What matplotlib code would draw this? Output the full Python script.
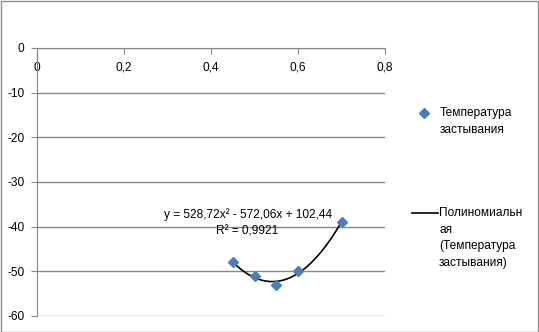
import matplotlib
matplotlib.use("Agg")
import matplotlib.pyplot as plt
from matplotlib.patches import Rectangle
import numpy as np

plt.rcParams['font.family'] = ['Liberation Sans', 'DejaVu Sans']

x_vals = [0.45, 0.50, 0.55, 0.60, 0.70]
y_vals = [-48, -51, -53, -50, -39]
coef = [528.72, -572.06, 102.44]
x_ticks = [0, 0.2, 0.4, 0.6, 0.8]
x_tick_labels = ["0", "0,2", "0,4", "0,6", "0,8"]
y_ticks = [0, -10, -20, -30, -40, -50, -60]
y_tick_labels = ["0", "-10", "-20", "-30", "-40", "-50", "-60"]
series_lines = ["Температура", "застывания"]
trend_lines = ["Полиномиальн", "ая", "(Температура", "застывания)"]
eq_text = "y = 528,72x² - 572,06x + 102,44"
r2_text = "R² = 0,9921"

W, H = 539, 332
FS = 8.6
fig = plt.figure(figsize=(W/100, H/100), dpi=100)
fig.patches.append(Rectangle((0.5/W, 0.5/H), (W-1.5)/W, (H-1.5)/H, transform=fig.transFigure,
                             fill=False, edgecolor='#8c8c8c', lw=1))

ax = fig.add_axes([37/W, (H-316)/H, (385-37)/W, (316-48)/H])
ax.set_xlim(0, 0.8)
ax.set_ylim(-60, 0)
gc = '#868686'
for yv in y_ticks:
    ax.axhline(yv, color=gc, lw=1, zorder=1)
for s in ['top', 'right']:
    ax.spines[s].set_visible(False)
ax.spines['left'].set_color(gc)
ax.spines['bottom'].set_position(('data', 0))
ax.spines['bottom'].set_color(gc)
ax.set_xticks(x_ticks)
ax.set_xticklabels(x_tick_labels)
ax.set_yticks(y_ticks)
ax.set_yticklabels(y_tick_labels)
ax.tick_params(axis='x', direction='out', length=4, color=gc, pad=6, labelsize=FS)
ax.tick_params(axis='y', direction='out', length=4, color=gc, pad=5, labelsize=FS)
ax.patch.set_visible(False)

xs = np.linspace(min(x_vals), max(x_vals), 200)
ys = np.polyval(coef, xs)
ax.plot(xs, ys, color='black', lw=1.2, zorder=3)
ax.plot(x_vals, y_vals, linestyle='none', marker='D', markersize=5.5,
        color='#4a7ebb', zorder=4, clip_on=False)

fig.text(248/W, 1-215/H, eq_text, ha='center', va='center', fontsize=FS)
fig.text(247/W, 1-232/H, r2_text, ha='center', va='center', fontsize=FS)

# legend
lax = fig.add_axes([0, 0, 1, 1])
lax.set_xlim(0, W); lax.set_ylim(H, 0); lax.axis('off')
lax.plot([424], [113], marker='D', markersize=5, color='#4a7ebb', linestyle='none')
for i, t in enumerate(series_lines):
    lax.text(440, 113 + 17*i, t, ha='left', va='center', fontsize=FS)
lax.plot([412, 438], [213, 213], color='black', lw=1.2)
for i, t in enumerate(trend_lines):
    lax.text(439, 213 + 16.7*i, t, ha='left', va='center', fontsize=FS)

fig.savefig("out.png", dpi=100)
